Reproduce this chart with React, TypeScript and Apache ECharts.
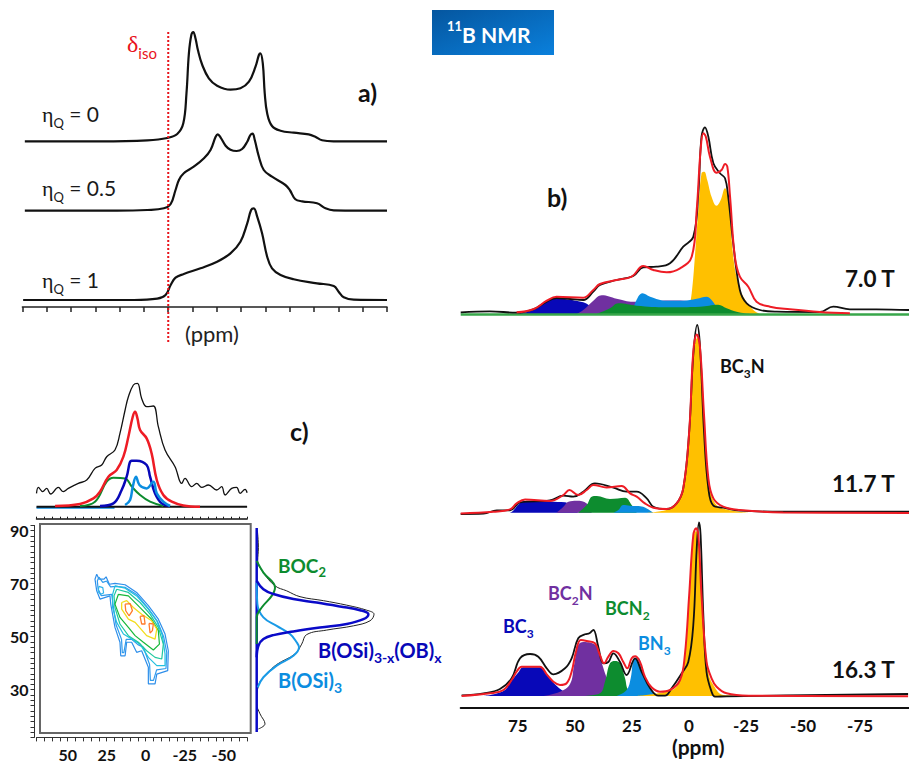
import React, { useEffect, useRef } from "react";
import * as echarts from "echarts";

type P = [number, number];

/* ---------- panel a: simulated line shapes (ppm, stacked intensity) ---------- */
const etaQ0: P[] = [[59,165.7],[27.8,165.7],[8.6,166.7],[0.4,169],[-3.7,173],[-6.2,183.7],[-7.5,213.7],[-8.5,253.7],[-9.5,272],[-10.3,275],[-11.2,268.7],[-12.2,257],[-14,242],[-16.7,228.7],[-20.1,221.3],[-25.6,217.3],[-29.7,218.7],[-33.2,225.3],[-35.9,240.3],[-37.3,252],[-37.9,253.7],[-38.9,243.7],[-39.7,213.7],[-40.7,193.7],[-42.7,181],[-46.2,176.3],[-51.6,174.3],[-57.8,172.7],[-60.5,170.3],[-63.3,166.7],[-68,165.7],[-90,165.7]];
const etaQ05: P[] = [[59,96.3],[21,96.3],[8.6,97],[1.8,98.7],[-1,103],[-3,117],[-4.4,127],[-6.4,133.7],[-10.5,140.3],[-14.7,148.7],[-17.4,157],[-19.5,170.3],[-20.4,172.7],[-21.5,169.7],[-23.6,161.3],[-25.6,157.3],[-28.1,156],[-30.4,158],[-32.5,165.3],[-33.8,172],[-34.7,173.3],[-35.6,167],[-37.3,150.3],[-39.3,137],[-42.7,130.3],[-48.2,122],[-50,117],[-52.3,107.7],[-55.1,105.7],[-61.2,103.7],[-64.7,98.7],[-68.1,96.7],[-90,96.3]];
const etaQ1: P[] = [[59.7,7],[14.1,7],[4.5,8.3],[1.1,12],[-1,22],[-3,29.3],[-6.4,33],[-13.3,38.7],[-20.1,45.3],[-25.6,53.7],[-29.7,65.3],[-32.5,83.7],[-34.1,97],[-35.2,98.7],[-36.6,90.3],[-38.6,73.7],[-40.7,50.3],[-42.7,38.7],[-46.2,32],[-51.6,27.7],[-61.2,23.7],[-68.1,21],[-70.1,15.3],[-72.2,9.7],[-76.3,7.3],[-90,7]];
const isoLine: P[] = [[0,275],[0,-36]];

/* ---------- panel b: 7.0 T ---------- */
const exp70: P[] = [[100,1.7],[87.2,2.7],[75.5,1.3],[68.2,4.7],[62.3,12.3],[58,16],[52.1,15],[46.3,14],[41.9,22.3],[39,29],[31.7,34],[24.4,38],[20,46.7],[14.2,47.3],[8.3,50.7],[2.5,67.3],[-1.9,77.3],[-4.1,120.7],[-5.5,177.3],[-7,186.7],[-8.5,177.3],[-10.7,150.7],[-13.6,140.7],[-15.8,135.7],[-17.2,117.3],[-19.4,70.7],[-22.3,24],[-25.3,10.7],[-31.1,4],[-38.4,2.3],[-57.4,2],[-63.2,7.3],[-70.5,4.7],[-82.2,4.7],[-96.4,4]];
const fit70: P[] = [[75.5,1.7],[68.2,4.7],[62.3,13.3],[58,17.3],[46.3,16.3],[41.9,24],[39,30],[31.7,34],[25.1,37.3],[20,48],[15.6,44],[9.8,41.7],[3.9,45.7],[-1.2,57.3],[-3.4,104],[-5.1,164],[-6.3,180.7],[-7.4,177.3],[-9.2,157.3],[-12.1,141.3],[-14.3,144],[-15.8,150],[-16.8,147.3],[-18,117.3],[-20.1,57.3],[-22.3,37.3],[-26,27.3],[-29.6,12.3],[-35.5,7.3],[-44.2,4.7],[-57.4,2],[-70.5,0.7]];
const bc370: P[] = [[75.5,0],[68.2,4],[62.3,12.3],[58,16.7],[54.3,15],[46.3,11.7],[43.4,8],[39.7,0]];
const bc2n70: P[] = [[49.2,0],[46.3,4],[41.9,13.3],[38.2,18.7],[31.7,15.3],[24.4,12.3],[8.3,13.5],[-0.4,13],[-4,5],[-6.3,0]];
const bcn270: P[] = [[40.4,0],[34.6,5.7],[30.9,10.7],[22.9,8.3],[9.8,6.7],[-4.8,7.3],[-12.8,9.3],[-16.5,5.7],[-20.9,2.3],[-26.7,0]];
const bn370: P[] = [[24.7,0],[23.6,10.7],[20.3,20.7],[17,17.3],[9.8,13.3],[2.5,13.3],[-3.4,15.3],[-7.7,17.3],[-9.9,14],[-12.1,7.3],[-15.8,0]];
const bc3n70: P[] = [[0.3,0],[-1.2,20.7],[-2.6,57.3],[-4.1,104],[-5.5,140.7],[-6.7,142.3],[-8,134],[-9.9,117.3],[-12.1,108.3],[-13.9,114],[-15.8,125.7],[-17.2,117.3],[-19.4,57.3],[-21.2,34],[-23.8,17.3],[-28.2,4],[-31.1,0]];
const base70: P[] = [[100,-0.5],[-96.4,-0.5]];

/* ---------- panel b: 11.7 T ---------- */
const exp117: P[] = [[100,-1.3],[90,-1],[84.2,2.3],[78.4,2.3],[74,10.3],[60.9,12.3],[55,17],[50.7,16],[46.3,21],[41.2,29.3],[33.1,25],[27.3,21],[22.9,21],[18.5,14.3],[15.6,6],[9.8,3.7],[5.4,9.3],[2.5,24.3],[-0.1,81],[-1.9,157.7],[-3.6,187.7],[-4.8,167.7],[-6.6,81],[-8.5,24.3],[-10.7,7],[-15,5],[-22.3,2],[-41.3,1],[-96.4,1]];
const fit117: P[] = [[100,-0.7],[85.7,1],[78.4,3.3],[75.5,9.3],[71.8,13.3],[60.9,11.7],[55,17.7],[52.4,22.7],[48.5,17.7],[44.8,22.7],[41.9,27.7],[36.1,25.3],[29.5,26.7],[25.8,19.3],[22.9,16],[19.3,9.3],[15.6,5],[9.8,3.7],[5.4,9.3],[2.5,24.3],[-0.1,81],[-1.9,161],[-3.4,178.3],[-4.8,166],[-6.6,97.7],[-8.5,34.3],[-10.7,14.3],[-15,6],[-22.3,2.7],[-41.3,0.3],[-96.4,-0.3]];
const bc3117: P[] = [[78.4,0],[77,2],[74.7,8.3],[71.8,11.7],[60.9,11],[54.3,10.5],[51.4,5],[48.5,0]];
const bc2n117: P[] = [[58,0],[55,6],[52.8,11],[49.2,12],[44.8,9.3],[42.6,0]];
const bcn2117: P[] = [[48.5,0],[44.8,7.7],[42.6,16],[40.4,16.7],[34.6,13.7],[28,15],[25.1,7.7],[22.9,0]];
const bn3117: P[] = [[33.1,0],[30.9,2.7],[28.8,7.7],[25.8,7],[20.7,6.3],[18.5,4.3],[15.6,0]];
const bc3n117: P[] = [[18.5,0],[9.8,2.7],[5.4,8.3],[2.5,24.3],[-0.1,81],[-1.9,157.7],[-3.6,175],[-5.1,154.3],[-7,81],[-9.2,24.3],[-12.1,7.7],[-16.5,3.3],[-26.7,0]];

/* ---------- panel b: 16.3 T ---------- */
const exp163: P[] = [[99.6,0.7],[90,2.7],[82.8,7],[77.7,17.7],[74,37.7],[69.6,42],[66,39.3],[62.3,27.7],[59.4,21.7],[54.3,27.7],[51.4,37.7],[48.5,57.7],[45.5,61.7],[43.6,62.7],[41.9,66],[39.7,49],[37.5,32.7],[35.3,34],[33.1,42.7],[30.2,34],[27.3,21],[23.6,37.7],[20.7,24],[17,7.7],[13.4,0.3],[10.5,0.3],[7.6,7.7],[3.2,22.7],[0.3,34],[-1.9,71],[-3.4,147.7],[-4.4,173.7],[-5.1,161],[-6.3,81],[-7.7,24],[-9.9,4.3],[-11.4,-0.7],[-16.5,-0.3],[-96,2]];
const fit163: P[] = [[99.6,0],[87.2,2.7],[81.3,6],[77.7,16],[75.5,24.3],[73.3,29.3],[65.3,29.3],[62.3,21.7],[59.4,14.3],[56.5,11],[53.6,12.7],[51.4,24.3],[49.5,44.3],[47.4,56],[44.8,55],[41.2,52.7],[39,41],[37.2,32.7],[35.3,39.3],[33.1,45],[30.9,42.7],[28.8,34.3],[27,27.7],[25.1,37.7],[23.6,39.7],[21.5,34.3],[19.3,19.3],[16.4,8.7],[12.7,4.3],[8.3,6],[3.9,16],[1.8,41],[-0.1,101],[-1.9,161],[-3.1,167.7],[-4.1,161],[-5.5,101],[-7.7,34.3],[-9.9,17.7],[-12.1,9.3],[-16.5,2.7],[-26.7,0.3],[-96,-0.3]];
const bc3163: P[] = [[90,0],[81.3,5],[77.7,15.3],[74.7,23.7],[72.6,28.7],[65.3,28.7],[62.3,21],[59.4,13.3],[55.8,6],[52.1,1],[49.2,0]];
const bc2n163: P[] = [[63.8,0],[56.5,4.3],[52.1,12],[50.4,30],[48.5,51],[46.3,54],[40.4,50],[38.7,37],[36,18],[33.9,8],[30.2,1],[25.8,0]];
const bcn2163: P[] = [[46.3,0],[39,2.7],[36.8,14.3],[34.6,32.7],[32.4,35],[30.2,32.7],[28,17.7],[26.6,6],[22.9,1],[17,0]];
const bn3163: P[] = [[31.7,0],[27.3,6],[25.5,18],[24,37.7],[22.2,38.3],[20.3,24.3],[17,7.7],[14.2,1.7],[11.2,0]];
const bc3n163: P[] = [[22.9,0],[11.2,3.7],[5.4,9.3],[2.5,27.7],[0.3,87.7],[-1.9,157.7],[-3.1,165],[-4.2,157.7],[-6.3,81],[-8.5,24.3],[-10.7,11],[-15,1],[-26.7,0]];

/* ---------- panel c: F2 projection ---------- */
const topExp: P[] = [[70,13.3],[68.8,19.3],[66,15],[63.5,18.3],[60.9,12.7],[56,19.3],[52.8,15],[49.6,18.3],[43.2,23.3],[37.8,26.7],[32.5,38.3],[28.2,41.7],[25,50],[19.7,56.7],[16.5,73.3],[13.2,96.7],[11.1,110],[7.9,121.7],[5.3,123.3],[2.6,108.3],[-0.6,100],[-4.9,100.7],[-8.1,80],[-12.4,56.7],[-18.8,40],[-23.1,23.3],[-25.2,28.3],[-29.5,20],[-32.7,23.3],[-35.9,19.3],[-40.2,21.7],[-45.5,16.7],[-48.7,20],[-50.9,11.7],[-55.1,18.3],[-58.3,19.3],[-60.5,13.3],[-63.7,17.3],[-65,14]];
const topFit: P[] = [[58.1,0.7],[42.1,2.7],[33.5,8.3],[29.3,15],[23.9,30],[18.6,36.7],[14.3,50],[11.1,70],[8.3,90],[6.8,95],[5.3,88.3],[3.6,76.7],[-0.6,68.3],[-3.8,53.3],[-7.1,26.7],[-11.3,11.7],[-16.7,5],[-24.1,1.3],[-34.8,0]];
const topOb: P[] = [[29.3,0.7],[20.7,3.3],[15.4,16.7],[12.2,30],[9,46],[5.8,46],[-0.6,41.7],[-2.8,30],[-6,13.3],[-10.3,3.3],[-15.6,0.7]];
const topBoc: P[] = [[42.1,0.7],[32.5,5],[25,25],[20.7,29],[13.2,28.3],[8.9,20],[3.6,11.7],[-2.8,5],[-11.3,0.7]];
const topOsi: P[] = [[13.2,1.7],[10,6.7],[8.3,20],[6.2,30],[4,21.7],[-0.6,18.3],[-4.9,25],[-7.1,13.3],[-11.3,5],[-15.6,0.7]];
const topBase: P[] = [[70,0],[-65,0]];
const topBaseBlue: P[] = [[70,-1],[20,-1]];

/* ---------- panel c: contour levels (F2 ppm, F1 ppm) ---------- */
const contourOuter: P[] = [[31.4,73.6],[29.9,71.7],[26.7,71.7],[25.4,72.6],[23.3,69.8],[19.7,70.1],[13.2,69.6],[5.8,66.7],[-1.7,61.7],[-8.1,56.6],[-12.4,51],[-14.5,44.7],[-14.1,37.2],[-7.1,35.9],[-6,32.2],[-1.7,32.2],[-1.7,38.5],[2.6,44.7],[5.8,44.1],[9,47.9],[12.2,47.9],[13.2,42.8],[16,42.8],[16.5,47.9],[19.7,53.5],[22.4,62.3],[22.9,65.4],[29.3,64.2],[31.4,67.3],[32.5,71.7],[31.4,73.6]];
const contourBlue: P[] = [[30,72.5],[27.5,70.5],[25,71],[22.5,68.8],[19,69],[13,68.6],[5.5,65.8],[-1.5,60.8],[-7.5,55.8],[-11.5,50],[-13.5,44],[-13,38],[-7,37.5],[-5,33.5],[-3,33.5],[-2.5,39.5],[1.5,46],[5,47],[9,49],[12.5,49],[14,44],[15,44],[15.5,49],[19,54.5],[21,62.5],[21.8,66],[28.5,65.5],[30.5,68],[31,71],[30,72.5]];
const contourArm: P[] = [[30,69],[27.5,68.5],[27,66.5],[29,66],[30.5,67],[30,69]];
const contourCyan: P[] = [[19.7,69.2],[13.2,68.3],[5.8,65.4],[-1.7,60.4],[-7.1,56],[-10.7,50.4],[-12.4,43.5],[-12.4,39.1],[-7.1,39.1],[-1.7,42.2],[3.6,47.2],[9,49.1],[14.3,51],[18.6,55.4],[21.2,61],[21.2,66],[19.7,69.2]];
const contourTeal: P[] = [[18.6,67.9],[11.1,66.7],[3.6,62.9],[-2.8,58.5],[-8.1,53.5],[-11.3,47.2],[-10.3,41.6],[-6,42.2],[-0.6,44.7],[4.7,47.9],[11.1,50.4],[16.5,54.8],[19.7,61],[20.3,65.4],[18.6,67.9]];
const contourGreen: P[] = [[17.5,66],[11.1,65.4],[3.6,61],[-3.8,56.6],[-8.1,52.3],[-8.8,47.2],[-4.9,45],[1.5,47.9],[6.8,50.4],[11.1,53.5],[16.5,57.3],[19.7,62.3],[17.5,66]];
const contourYellow: P[] = [[15.4,62.9],[12.2,63.6],[7.9,61],[2.6,58.5],[-3.8,56],[-7.1,52.9],[-6,49.1],[-0.6,50.4],[6.8,55.4],[11.1,56.6],[15.4,60.4],[15.4,62.9]];
const contourOrangeA: P[] = [[13.2,62.3],[10,62.5],[8.5,59.8],[10.7,57.9],[12.8,59.8],[13.2,62.3]];
const contourOrangeB: P[] = [[3.6,57.7],[1.1,57.9],[0.4,54.8],[2.6,54.8],[3.6,57.7]];
const contourOrangeC: P[] = [[-2.1,55],[-4.9,54.8],[-4.3,52.3],[-2.8,51.4],[-2.1,55]];

/* ---------- panel c: F1 projection (intensity, F1 ppm) ---------- */
const sideExp: P[] = [[0.7,89.9],[1.7,83.6],[1,78.6],[6.7,74.2],[18.3,69.2],[30,67.3],[43.3,65.1],[66.7,63.6],[90,61.9],[110,60],[117.3,58.5],[113.3,56],[96.7,54.1],[70,52.5],[50,50.8],[45,47.2],[38.3,43.5],[20,39.5],[10,35.9],[1.7,31.6],[0,24.7],[3.3,20.9],[8.3,17.1],[1.7,15.2]];
const sideOsi: P[] = [[0,70.5],[0.7,62.3],[6.7,57.3],[20,54.1],[33.3,51],[40,47.9],[42.3,46],[36.7,42.8],[20,39.1],[6.7,34.7],[1,30.9]];
const sideBoc: P[] = [[0,78.6],[6.7,74.2],[18.3,68.6],[15,65.4],[5,61],[0,57.3],[0,47.2]];
const sideOb: P[] = [[0,71.1],[6.7,67.9],[16.7,66.1],[36.7,64.2],[60,62.9],[83.3,61.4],[103.3,60],[111.7,58.5],[106.7,56.6],[90,54.8],[63.3,53.5],[36.7,52],[16.7,50.6],[6.7,49.1],[1.7,46.6],[0,42.2]];
const sideBase: P[] = [[0,91],[0,14]];

/* ---------- tick labels ---------- */
const bTicks = [75, 50, 25, 0, -25, -50, -75];
const cF2Ticks = [50, 25, 0, -25, -50];
const cF1Ticks = [90, 70, 50, 30];

const BLACK = "#111111";
const RED = "#ee1c25";
const ISO = "#e8141c";
const ORANGE = "#ffc000";
const DBLUE = "#0808b8";
const PURPLE = "#7030a0";
const GREEN = "#0d8c2f";
const LBLUE = "#0b8de0";
const FONT = "Lato";
const SYM = "Liberation Serif";

function line(grid: number, data: P[], color: string, width: number, extra: any = {}) {
  return {
    type: "line", xAxisIndex: grid, yAxisIndex: grid, data, symbol: "none", silent: true,
    lineStyle: { color, width }, itemStyle: { color }, ...extra,
  };
}
function curve(grid: number, data: P[], color: string, width: number) {
  return line(grid, data, color, width, { smooth: 0.4 });
}
function fill(grid: number, data: P[], color: string) {
  return line(grid, data, color, 0, { smooth: 0.4, areaStyle: { color, opacity: 1 } });
}

function label(x: number, y: number, text: string, rich: any) {
  return {
    type: "text", x, y, z: 50,
    style: { text, rich, align: "left", verticalAlign: "middle" },
  };
}
/* main text top-aligned, subscript bottom-aligned in a line box that is `drop` taller */
function subRich(color: string, size: number, sub: number, drop: number, weight = "bold", family = FONT) {
  const h = size + 4;
  const sh = sub + 2;
  return {
    a: { fontFamily: family, fontWeight: weight, fontSize: size, fill: color, lineHeight: h, verticalAlign: "top" },
    s: { fontFamily: FONT, fontWeight: weight, fontSize: sub, fill: color, lineHeight: sh, verticalAlign: "bottom", padding: [h + drop - sh, 0, 0, 0] },
  };
}
function etaRich() {
  return {
    g: { fontFamily: SYM, fontSize: 22, fill: "#1a1a1a", lineHeight: 26, verticalAlign: "top" },
    s: { fontFamily: FONT, fontSize: 13, fill: "#1a1a1a", lineHeight: 15, verticalAlign: "bottom", padding: [14, 0, 0, 0] },
    t: { fontFamily: FONT, fontSize: 21, fill: "#1a1a1a", lineHeight: 26, verticalAlign: "top" },
  };
}

export default function App() {
  const ref = useRef<HTMLDivElement>(null);
  useEffect(() => {
    const chart = echarts.init(ref.current!, null, { renderer: "svg" });
    const hiddenX = (min: number, max: number, inverse = true) => ({ type: "value", show: false, min, max, inverse });
    const hiddenY = (min: number, max: number) => ({ type: "value", show: false, min, max });

    const grids = [
      { left: 22.4, width: 364.6, top: 27, height: 320 },      // 0 panel a
      { left: 460.7, width: 448.3, top: 114, height: 204 },    // 1 7.0 T
      { left: 460.7, width: 448.3, top: 312.7, height: 204 },  // 2 11.7 T
      { left: 460.7, width: 448.3, top: 516, height: 192 },    // 3 16.3 T
      { left: 36.5, width: 210.6, top: 376.7, height: 142 },   // 4 F2 projection
      { left: 36.5, width: 210.6, top: 525.4, height: 212 },   // 5 contour
      { left: 256.7, width: 130, top: 525.4, height: 212 },    // 6 F1 projection
    ];
    const f2Label = (v: number) => (cF2Ticks.includes(v) ? String(v) : "");
    const f1Label = (v: number) => (cF1Ticks.includes(v) ? String(v) : "");

    const xAxis: any[] = [
      {
        type: "value", min: -90, max: 60, interval: 10, inverse: true, gridIndex: 0,
        axisLine: { show: true, onZero: true, lineStyle: { color: "#222", width: 1.5 } },
        axisTick: { show: true, length: 5, lineStyle: { color: "#222", width: 1.5 } },
        axisLabel: { show: false }, splitLine: { show: false },
      },
      { ...hiddenX(-96.4, 100), gridIndex: 1 },
      { ...hiddenX(-96.4, 100), gridIndex: 2 },
      {
        type: "value", min: -96.4, max: 100, inverse: true, gridIndex: 3,
        axisLine: { show: true, onZero: false, lineStyle: { color: "#111", width: 2 } },
        axisTick: { show: false }, splitLine: { show: false },
        axisLabel: {
          show: true, margin: 8, fontFamily: FONT, fontWeight: "bold", fontSize: 17, lineHeight: 18, color: "#111",
          customValues: bTicks,
        },
      },
      {
        type: "value", min: -65, max: 70, interval: 5, inverse: true, gridIndex: 4,
        axisLine: { show: true, onZero: false, lineStyle: { color: "#111", width: 1.5 } },
        axisTick: { show: true, inside: true, length: 2, lineStyle: { color: "#111", width: 1 } },
        axisLabel: { show: false }, splitLine: { show: false },
      },
      {
        type: "value", min: -65, max: 70, interval: 5, inverse: true, gridIndex: 5,
        axisLine: { show: true, onZero: false, lineStyle: { color: "#333", width: 1 } },
        axisTick: { show: true, length: 4, inside: false, lineStyle: { color: "#333", width: 1 } },
        splitLine: { show: false },
        axisLabel: {
          show: true, interval: 0, hideOverlap: false, margin: 9, fontFamily: FONT, fontWeight: "bold", fontSize: 16, color: "#111",
          formatter: f2Label,
        },
      },
      { ...hiddenX(0, 130, false), gridIndex: 6 },
    ];
    const yAxis: any[] = [
      { ...hiddenY(-40, 280), gridIndex: 0 },
      { ...hiddenY(-4, 200), gridIndex: 1 },
      { ...hiddenY(-4, 200), gridIndex: 2 },
      { ...hiddenY(-12, 180), gridIndex: 3 },
      { ...hiddenY(-12, 130), gridIndex: 4 },
      {
        type: "value", min: 12, max: 92, interval: 2, gridIndex: 5, offset: 2,
        axisLine: { show: true, onZero: false, lineStyle: { color: "#333", width: 1 } },
        axisTick: { show: true, length: 4, lineStyle: { color: "#333", width: 1 } },
        splitLine: { show: false },
        axisLabel: {
          show: true, interval: 0, hideOverlap: false, margin: 6, fontFamily: FONT, fontWeight: "bold", fontSize: 16, color: "#111",
          formatter: f1Label,
        },
      },
      { ...hiddenY(12, 92), gridIndex: 6 },
    ];

    const series: any[] = [
      // panel a
      curve(0, etaQ0, BLACK, 2.2),
      curve(0, etaQ05, BLACK, 2.2),
      curve(0, etaQ1, BLACK, 2.2),
      line(0, isoLine, ISO, 2, { lineStyle: { color: ISO, width: 2, type: [2, 2] }, z: 5 }),
      // 7.0 T
      fill(1, bc3n70, ORANGE), fill(1, bc370, DBLUE), fill(1, bc2n70, PURPLE), fill(1, bn370, LBLUE), fill(1, bcn270, GREEN),
      line(1, base70, "#37a64a", 2.5),
      curve(1, exp70, BLACK, 1.8), curve(1, fit70, RED, 2),
      // 11.7 T
      fill(2, bc3117, DBLUE), fill(2, bc2n117, PURPLE), fill(2, bcn2117, GREEN), fill(2, bn3117, LBLUE), fill(2, bc3n117, ORANGE),
      curve(2, exp117, BLACK, 1.8), curve(2, fit117, RED, 2),
      // 16.3 T
      fill(3, bc3163, DBLUE), fill(3, bc2n163, PURPLE), fill(3, bcn2163, GREEN), fill(3, bn3163, LBLUE), fill(3, bc3n163, ORANGE),
      curve(3, exp163, BLACK, 1.8), curve(3, fit163, RED, 2),
      // F2 projection
      curve(4, topExp, BLACK, 1.3),
      line(4, topBaseBlue, LBLUE, 2),
      line(4, topBase, BLACK, 2),
      curve(4, topBoc, GREEN, 2), curve(4, topFit, RED, 2.5), curve(4, topOb, DBLUE, 2.5), curve(4, topOsi, LBLUE, 2.5),
      // contours
      line(5, contourOuter, "#2f8fea", 1.2), line(5, contourBlue, "#2f9bec", 1.2), line(5, contourArm, "#2fb4ea", 1.2),
      line(5, contourCyan, "#22bfe0", 1.2), line(5, contourTeal, "#1fc8a0", 1.2), line(5, contourGreen, "#17b83a", 1.2),
      line(5, contourYellow, "#f2dc1e", 1.3), line(5, contourOrangeA, "#ff7a2a", 1.3),
      line(5, contourOrangeB, "#ff7a2a", 1.3), line(5, contourOrangeC, "#ff7a2a", 1.3),
      // F1 projection
      line(6, sideExp, "#222", 1, { smooth: 0.4 }),
      line(6, sideBase, "#0a0ac8", 2.5),
      line(6, sideOsi, "#1a9ae6", 2, { smooth: 0.4 }), line(6, sideBoc, GREEN, 2, { smooth: 0.4 }), line(6, sideOb, "#0a0ac8", 2.5, { smooth: 0.4 }),
    ];

    const graphic: any[] = [
      {
        type: "rect", shape: { x: 432, y: 10, width: 122, height: 45 }, z: 40,
        style: {
          fill: new echarts.graphic.LinearGradient(0, 0, 1, 1, [
            { offset: 0, color: "#05569f" }, { offset: 1, color: "#0a80dc" },
          ]),
        },
      },
      {
        type: "text", x: 447, y: 32, z: 50,
        style: {
          text: "{s|11}{a|B NMR}", align: "left", verticalAlign: "middle",
          rich: {
            a: { fontFamily: FONT, fontWeight: "bold", fontSize: 21, fill: "#fff", lineHeight: 25, padding: [5, 0, 0, 0], verticalAlign: "bottom" },
            s: { fontFamily: FONT, fontWeight: "bold", fontSize: 13, fill: "#fff", lineHeight: 15, verticalAlign: "top" },
          },
        },
      },
      {
        type: "rect", shape: { x: 40, y: 524, width: 210.7, height: 209 }, z: 1,
        style: { fill: "none", stroke: "#666", lineWidth: 2 },
      },
      label(127, 46, "{a|δ}{s|iso}", subRich(ISO, 24, 15, 3, "normal", SYM)),
      label(42, 116, "{g|η}{s|Q}{t| = 0}", etaRich()),
      label(42, 190, "{g|η}{s|Q}{t| = 0.5}", etaRich()),
      label(42, 282, "{g|η}{s|Q}{t| = 1}", etaRich()),
      label(185, 333, "{t|(ppm)}", { t: { fontFamily: FONT, fontSize: 22, fill: "#222" } }),
      label(358, 92, "{t|a)}", { t: { fontFamily: FONT, fontWeight: "bold", fontSize: 25, fill: "#111" } }),
      label(547, 197, "{t|b)}", { t: { fontFamily: FONT, fontWeight: "bold", fontSize: 25, fill: "#111" } }),
      label(290, 431, "{t|c)}", { t: { fontFamily: FONT, fontWeight: "bold", fontSize: 25, fill: "#111" } }),
      label(845, 278, "{t|7.0 T}", { t: { fontFamily: FONT, fontWeight: "bold", fontSize: 22.5, fill: "#111" } }),
      label(832, 483, "{t|11.7 T}", { t: { fontFamily: FONT, fontWeight: "bold", fontSize: 22.5, fill: "#111" } }),
      label(832, 669, "{t|16.3 T}", { t: { fontFamily: FONT, fontWeight: "bold", fontSize: 22.5, fill: "#111" } }),
      label(720, 368, "{a|BC}{s|3}{a|N}", subRich("#111", 18, 12, 3)),
      label(503, 628, "{a|BC}{s|3}", subRich(DBLUE, 18, 12, 3)),
      label(548, 595, "{a|BC}{s|2}{a|N}", subRich(PURPLE, 18, 12, 3)),
      label(605, 610, "{a|BCN}{s|2}", subRich(GREEN, 18, 12, 3)),
      label(638, 645, "{a|BN}{s|3}", subRich(LBLUE, 18, 12, 3)),
      label(672, 746, "{t|(ppm)}", { t: { fontFamily: FONT, fontWeight: "bold", fontSize: 21, lineHeight: 20, fill: "#111" } }),
      label(278, 567, "{a|BOC}{s|2}", subRich(GREEN, 19, 13, 3)),
      label(318, 652, "{a|B(OSi)}{s|3-x}{a|(OB)}{s|x}", subRich(DBLUE, 20, 14, 3)),
      label(278, 682, "{a|B(OSi)}{s|3}", subRich(LBLUE, 20, 14, 3)),
    ];

    chart.setOption({
      animation: false,
      backgroundColor: "#ffffff",
      grid: grids,
      xAxis, yAxis, series, graphic,
    });
    return () => chart.dispose();
  }, []);
  return <div ref={ref} style={{ position: "fixed", left: 0, top: 0, width: 909, height: 767 }} />;
}
